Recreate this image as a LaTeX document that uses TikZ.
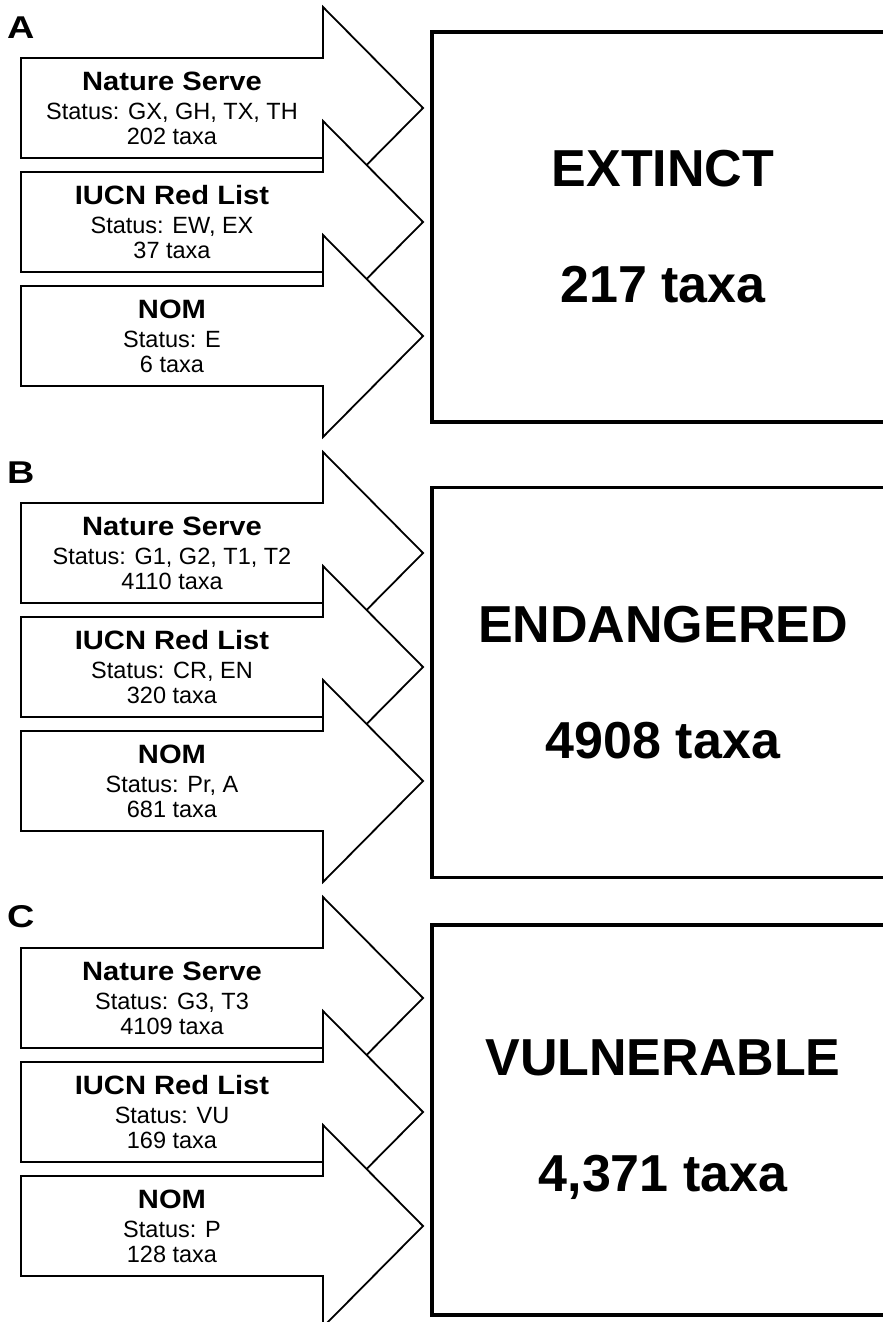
\documentclass[tikz,border=0pt]{standalone}
\usepackage{fontspec}
\setmainfont{Liberation Sans}
\newfontfamily\headfam[FakeStretch=1.1]{Liberation Sans}
\newfontfamily\panelfam[FakeStretch=1.2]{Liberation Sans}

% source arrow: name, position of the body centre, text
\newcommand{\srcarrow}[3]{%
  \draw[srcarrow] #2 ++(-151,-50) -- ++(302,0) -- ++(0,-51) -- ++(100,101)
    -- ++(-100,101) -- ++(0,-51) -- ++(-302,0) -- cycle;
  \node[srctext] (#1) at #2 {#3};}
\newcommand{\src}[3]{{\headfam\fontsize{26.5}{25}\selectfont\bfseries #1}\\[4pt] #2\\ #3}

\begin{document}
\begin{tikzpicture}[x=1pt, y=-1pt,
  srcarrow/.style={draw, fill=white, line width=1.8pt, line join=miter},
  srctext/.style={align=center, inner sep=0pt, font=\fontsize{23.5}{25}\selectfont},
  catbox/.style={draw, line width=3.5pt, minimum width=462pt, minimum height=390pt,
    align=center, font=\fontsize{52}{116}\selectfont\bfseries},
  panel/.style={anchor=base west, inner sep=0pt, font=\panelfam\fontsize{31.5}{31}\selectfont\bfseries}
]
  \useasboundingbox (0,0) rectangle (883,1322);
  \clip (0,0) rectangle (883,1322);

  % Panel A
  \node[panel] (labA) at (7,39) {A};
  \srcarrow{nsA}{(172,108)}{\src{Nature Serve}{Status: GX, GH, TX, TH}{202 taxa}}
  \srcarrow{iucnA}{(172,222)}{\src{IUCN Red List}{Status: EW, EX}{37 taxa}}
  \srcarrow{nomA}{(172,336)}{\src{NOM}{Status: E}{6 taxa}}
  \node[catbox] (ext) at (663,227) {EXTINCT\\217 taxa};

  % Panel B
  \node[panel] (labB) at (7,483) {B};
  \srcarrow{nsB}{(172,553)}{\src{Nature Serve}{Status: G1, G2, T1, T2}{4110 taxa}}
  \srcarrow{iucnB}{(172,667)}{\src{IUCN Red List}{Status: CR, EN}{320 taxa}}
  \srcarrow{nomB}{(172,781)}{\src{NOM}{Status: Pr, A}{681 taxa}}
  \node[catbox] (endg) at (663,682.5) {ENDANGERED\\4908 taxa};

  % Panel C
  \node[panel] (labC) at (7,927) {C};
  \srcarrow{nsC}{(172,998)}{\src{Nature Serve}{Status: G3, T3}{4109 taxa}}
  \srcarrow{iucnC}{(172,1112)}{\src{IUCN Red List}{Status: VU}{169 taxa}}
  \srcarrow{nomC}{(172,1226)}{\src{NOM}{Status: P}{128 taxa}}
  \node[catbox] (vul) at (663,1120) {VULNERABLE\\4,371 taxa};

\end{tikzpicture}
\end{document}
